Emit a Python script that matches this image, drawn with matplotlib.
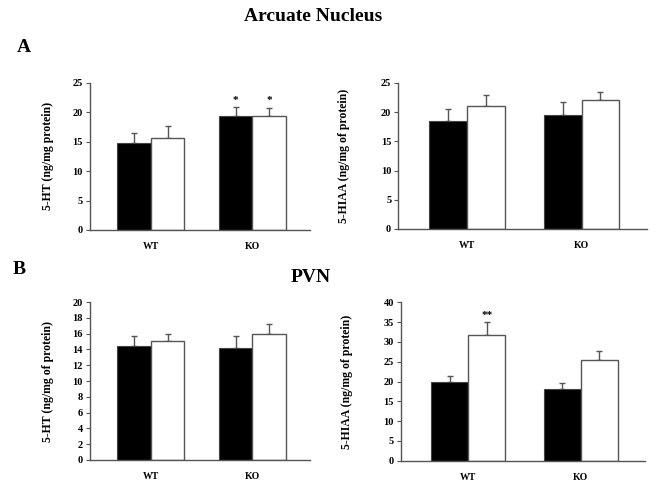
import matplotlib.pyplot as plt

plt.rcParams['font.family'] = ['Liberation Serif', 'DejaVu Serif']
plt.rcParams['font.weight'] = 'bold'
plt.rcParams['axes.labelweight'] = 'bold'

groups = ["WT", "KO"]

# Arcuate nucleus
arc_ht_black = [14.7, 19.3]
arc_ht_black_err = [1.7, 1.6]
arc_ht_white = [15.7, 19.3]
arc_ht_white_err = [1.9, 1.5]
arc_ht_stars = ["", "", "*", "*"]   # order: WT black, WT white, KO black, KO white

arc_hiaa_black = [18.5, 19.5]
arc_hiaa_black_err = [2.0, 2.2]
arc_hiaa_white = [21.0, 22.0]
arc_hiaa_white_err = [2.0, 1.4]

# PVN
pvn_ht_black = [14.4, 14.2]
pvn_ht_black_err = [1.3, 1.5]
pvn_ht_white = [15.1, 16.0]
pvn_ht_white_err = [0.9, 1.2]

pvn_hiaa_black = [20.0, 18.0]
pvn_hiaa_black_err = [1.5, 1.5]
pvn_hiaa_white = [31.7, 25.5]
pvn_hiaa_white_err = [3.3, 2.2]
pvn_hiaa_stars = ["", "**", "", ""]


def panel(rect, black, black_err, white, white_err, ymax, ystep, ylabel,
          stars=None, lpad=8):
    ax = fig.add_axes(rect)
    w = 0.33
    xb = [i - w / 2 for i in range(len(groups))]
    xw = [i + w / 2 for i in range(len(groups))]
    ax.bar(xb, black, w, color='black', edgecolor='#444444', linewidth=0.8, zorder=2)
    ax.bar(xw, white, w, color='white', edgecolor='#555555', linewidth=1.0, zorder=2)
    ax.errorbar(xb, black, yerr=[[0] * len(black), black_err], fmt='none',
                ecolor='#555555', elinewidth=1.0, capsize=2.5, zorder=1)
    ax.errorbar(xw, white, yerr=[[0] * len(white), white_err], fmt='none',
                ecolor='#555555', elinewidth=1.0, capsize=2.5, zorder=1)
    if stars:
        tops = []
        for i in range(len(groups)):
            tops.append((xb[i], black[i] + black_err[i]))
            tops.append((xw[i], white[i] + white_err[i]))
        for (x, t), s in zip(tops, stars):
            if s:
                ax.text(x, t + ymax * 0.015, s, ha='center', va='bottom', fontsize=8)
    ax.set_xlim(-0.6, 1.57)
    ax.set_ylim(0, ymax)
    ax.set_yticks(range(0, ymax + 1, ystep))
    ax.set_xticks(range(len(groups)))
    ax.set_xticklabels(groups, fontsize=7)
    ax.tick_params(axis='x', length=0, pad=9)
    ax.tick_params(axis='y', length=3, width=0.8, color='#555555', labelsize=7.5, pad=2)
    for s in ['top', 'right']:
        ax.spines[s].set_visible(False)
    for s in ['left', 'bottom']:
        ax.spines[s].set_color('#555555')
        ax.spines[s].set_linewidth(1.0)
    ax.set_ylabel(ylabel, fontsize=8.5, fontweight='bold', labelpad=lpad)
    return ax


fig = plt.figure(figsize=(6.56, 4.82), dpi=100)

panel([0.137, 0.523, 0.336, 0.305], arc_ht_black, arc_ht_black_err,
      arc_ht_white, arc_ht_white_err, 25, 5, "5-HT (ng/mg protein)", arc_ht_stars, lpad=13)
panel([0.607, 0.525, 0.379, 0.303], arc_hiaa_black, arc_hiaa_black_err,
      arc_hiaa_white, arc_hiaa_white_err, 25, 5, "5-HIAA (ng/mg of protein)", lpad=22)
panel([0.137, 0.046, 0.336, 0.327], pvn_ht_black, pvn_ht_black_err,
      pvn_ht_white, pvn_ht_white_err, 20, 2, "5-HT (ng/mg of protein)", lpad=13)
panel([0.611, 0.044, 0.372, 0.329], pvn_hiaa_black, pvn_hiaa_black_err,
      pvn_hiaa_white, pvn_hiaa_white_err, 40, 5, "5-HIAA (ng/mg of protein)",
      pvn_hiaa_stars, lpad=22)

fig.text(0.478, 0.965, "Arcuate Nucleus", ha='center', va='center', fontsize=14)
fig.text(0.025, 0.902, "A", ha='left', va='center', fontsize=14)
fig.text(0.02, 0.44, "B", ha='left', va='center', fontsize=14)
fig.text(0.473, 0.425, "PVN", ha='center', va='center', fontsize=14)

fig.savefig("out.png", dpi=100)
